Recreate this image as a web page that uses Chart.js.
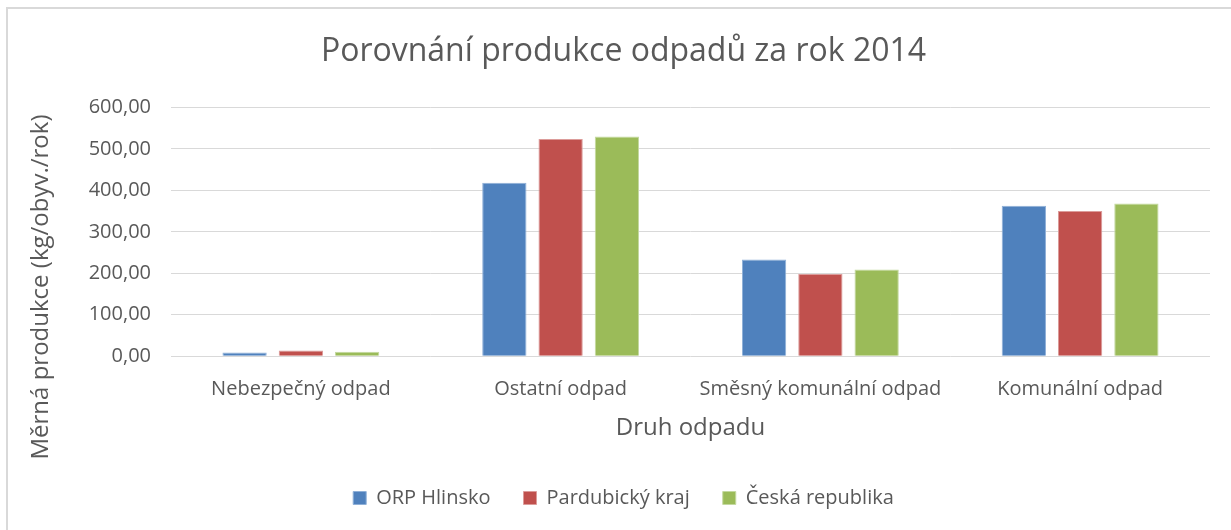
<!DOCTYPE html>
<html><head><meta charset="utf-8">
<script src="https://cdn.jsdelivr.net/npm/chart.js@4/dist/chart.umd.min.js"></script>
<style>html,body{margin:0;padding:0;background:#fff;}#wrap{position:relative;width:1231px;height:530px;}</style>
</head><body><div id="wrap"><canvas id="c" width="1231" height="530"></canvas></div>
<script>
const categories = ["Nebezpečný odpad", "Ostatní odpad", "Směsný komunální odpad", "Komunální odpad"];
const seriesNames = ["ORP Hlinsko", "Pardubický kraj", "Česká republika"];
const orpHlinsko = [9, 418, 233, 363];
const pardubickyKraj = [14, 524, 198, 350];
const ceskaRepublika = [11, 530, 209, 368];
const yAxisTitle = "Měrná produkce (kg/obyv./rok)";
const colors = ["#4f81bd", "#c0504d", "#9bbb59"];
const borders = ["#8fb0d8", "#dc9c9a", "#c4d9a0"];
const FONT = "'Open Sans', sans-serif";
const textColor = "#595959";

const frame = {
  id: 'frame',
  beforeDraw(chart) {
    const ctx = chart.ctx;
    ctx.save();
    ctx.fillStyle = '#fff';
    ctx.fillRect(0, 0, chart.width, chart.height);
    ctx.strokeStyle = '#d9d9d9';
    ctx.lineWidth = 2;
    ctx.strokeRect(7, 8, 1240, 540);
    ctx.restore();
  },
  afterDraw(chart) {
    const ctx = chart.ctx;
    ctx.save();
    ctx.translate(41, 287);
    ctx.rotate(-Math.PI / 2);
    ctx.font = "24px " + FONT;
    ctx.fillStyle = textColor;
    ctx.textAlign = 'center';
    ctx.textBaseline = 'middle';
    ctx.fillText(yAxisTitle, 0, 0);
    ctx.restore();
  }
};

new Chart(document.getElementById('c'), {
  type: 'bar',
  data: {
    labels: categories,
    datasets: [orpHlinsko, pardubickyKraj, ceskaRepublika].map((d, i) => ({
      label: seriesNames[i], data: d, backgroundColor: colors[i],
      borderColor: borders[i], borderWidth: 1,
      barPercentage: 0.787, categoryPercentage: 0.65
    }))
  },
  options: {
    responsive: false, animation: false,
    layout: { padding: { top: 33, left: 37, right: 21, bottom: 12 } },
    plugins: {
      title: { display: true, text: "Porovnání produkce odpadů za rok 2014",
        font: { family: FONT, size: 32, weight: 'normal' }, color: textColor,
        padding: { top: 0, bottom: 36 } },
      legend: { position: 'bottom',
        labels: { font: { family: FONT, size: 20 }, color: textColor, boxWidth: 13, boxHeight: 13, padding: 33 } },
      tooltip: { enabled: false }
    },
    scales: {
      x: {
        grid: { display: false },
        border: { display: false },
        ticks: { font: { family: FONT, size: 20 }, color: textColor, padding: 13, maxRotation: 0 },
        title: { display: true, text: "Druh odpadu", font: { family: FONT, size: 24 }, color: textColor, padding: { top: 0, bottom: 12 } }
      },
      y: {
        min: 0, max: 600,
        afterFit: s => { s.width = 134; },
        ticks: { stepSize: 100, font: { family: FONT, size: 20 }, color: textColor, padding: 20,
          callback: v => v.toFixed(2).replace('.', ',') },
        grid: { color: '#d9d9d9', lineWidth: 1, drawTicks: false },
        border: { display: false },
        title: { display: false }
      }
    }
  },
  plugins: [frame]
});
</script></body></html>
